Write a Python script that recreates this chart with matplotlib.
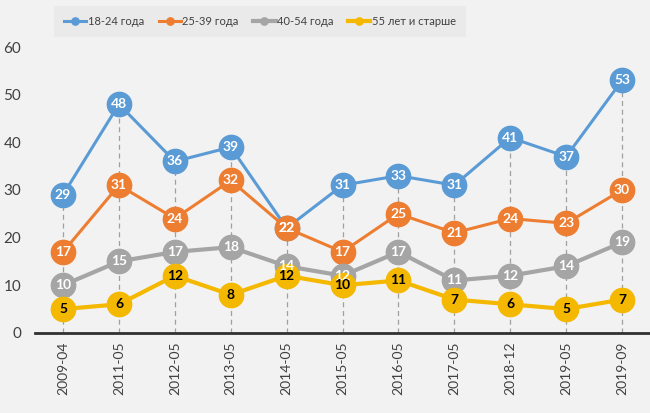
import matplotlib.pyplot as plt

dates = ["2009-04", "2011-05", "2012-05", "2013-05", "2014-05", "2015-05",
         "2016-05", "2017-05", "2018-12", "2019-05", "2019-09"]
age_18_24 = [29, 48, 36, 39, 22, 31, 33, 31, 41, 37, 53]
age_25_39 = [17, 31, 24, 32, 22, 17, 25, 21, 24, 23, 30]
age_40_54 = [10, 15, 17, 18, 14, 12, 17, 11, 12, 14, 19]
age_55 = [5, 6, 12, 8, 12, 10, 11, 7, 6, 5, 7]

names = ["18-24 года", "25-39 года", "40-54 года", "55 лет и старше"]
series = [age_18_24, age_25_39, age_40_54, age_55]
colors = ["#5b9bd5", "#ed7d31", "#a5a5a5", "#f5b800"]
txt_colors = ["white", "white", "white", "black"]
widths = [2.2, 2.2, 3.0, 3.0]

plt.rcParams['font.family'] = ['Lato', 'DejaVu Sans']

fig = plt.figure(figsize=(6.5, 4.13), dpi=100)
fig.patch.set_facecolor("#f2f2f2")
ax = fig.add_axes([0.054, 0.194, 0.946, 0.692])
ax.set_facecolor("#f2f2f2")

x = list(range(len(dates)))

# drop lines from the top point down to the axis
tops = [max(v) for v in zip(*series)]
ax.vlines(x, 0, tops, colors="#a0a0a0", linestyles=(0, (4, 3)), linewidth=0.9, zorder=1)

for i in range(len(series)):
    ax.plot(x, series[i], color=colors[i], lw=widths[i], marker="o", ms=17.5,
            label=names[i], zorder=2 + i)
    for xi, v in zip(x, series[i]):
        ax.text(xi, v, str(v), ha="center", va="center", fontsize=10,
                fontweight="bold", color=txt_colors[i], zorder=10 + i)

ax.set_xlim(-0.5, 10.5)
ax.set_ylim(0, 60)
ax.set_yticks(range(0, 61, 10))
ax.set_xticks(x)
ax.set_xticklabels(dates, rotation=90, fontsize=10, color="#404040")
ax.tick_params(axis="y", length=0, labelsize=11, labelcolor="#404040", pad=10)
ax.tick_params(axis="x", length=0, pad=6)
for s in ["top", "right", "left"]:
    ax.spines[s].set_visible(False)
ax.spines["bottom"].set_linewidth(2)
ax.spines["bottom"].set_color("#303030")
ax.spines["bottom"].set_zorder(20)

handles, labels = ax.get_legend_handles_labels()
leg = fig.legend(handles, labels, loc="center", bbox_to_anchor=(0.4, 0.948), ncol=4,
                 fontsize=8, frameon=True, handlelength=2.0, handletextpad=0.15,
                 columnspacing=1.3, markerscale=0.3, borderpad=0.9)
leg.get_frame().set_facecolor("#e8e8e8")
leg.get_frame().set_edgecolor("none")
leg.get_frame().set_boxstyle("square", pad=0)
for t in leg.get_texts():
    t.set_color("#404040")

fig.savefig("out.png", dpi=100, facecolor=fig.get_facecolor())
